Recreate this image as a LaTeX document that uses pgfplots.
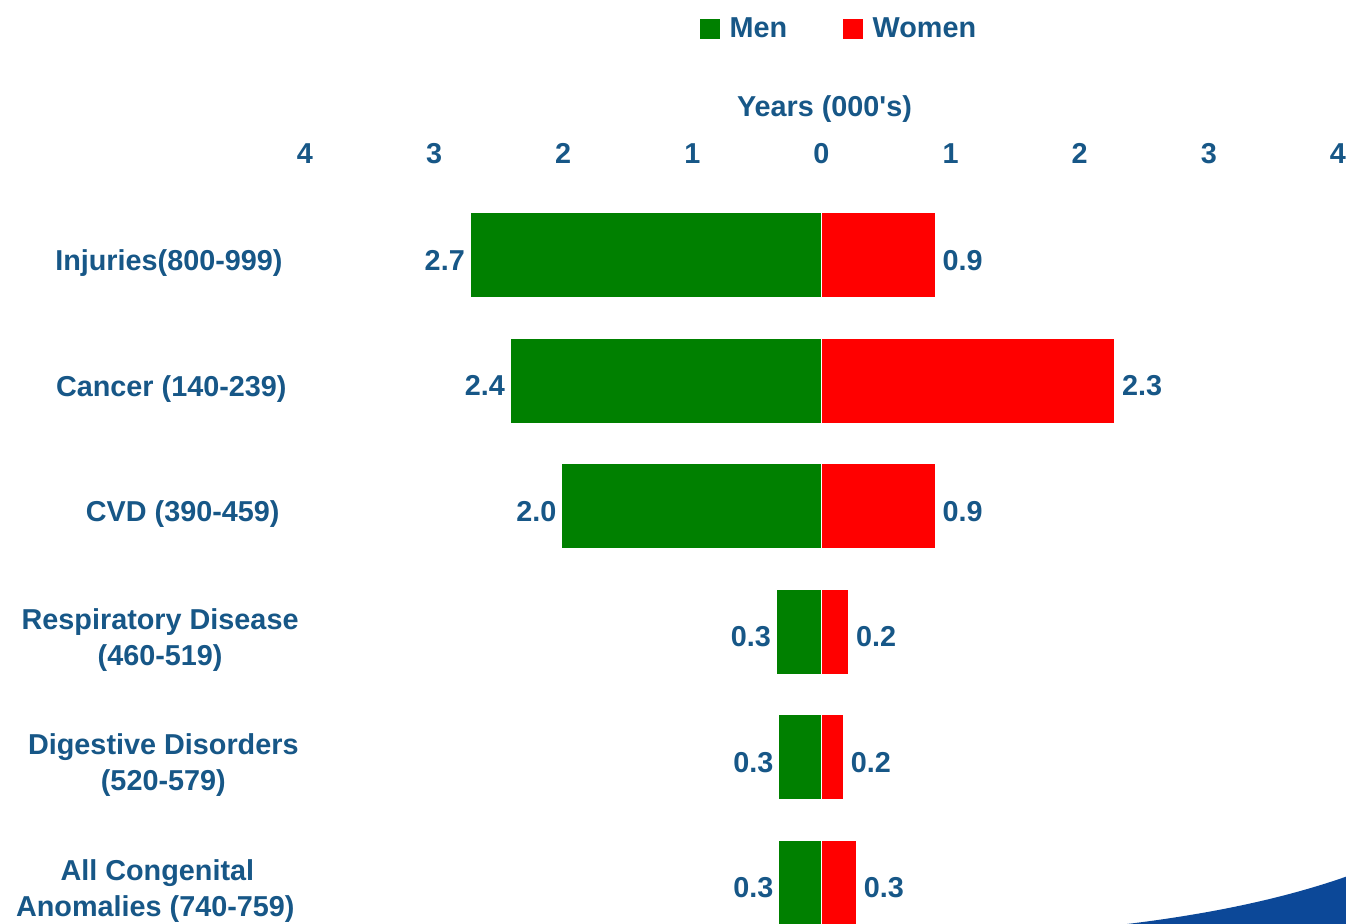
\documentclass[border=0pt]{standalone}
\usepackage{fontspec}
\setmainfont{Liberation Sans}
\usepackage{pgfplots}
\pgfplotsset{compat=1.18}
\definecolor{txtblue}{RGB}{23,87,135}
\definecolor{barmen}{RGB}{0,128,0}
\definecolor{barwomen}{RGB}{255,0,0}
\definecolor{swoosh}{RGB}{12,72,152}
\newcommand\chartfont{\fontsize{14.4}{18}\selectfont\bfseries}
\newcommand\pad[1]{\rule{#1}{0pt}}
\begin{document}
\begin{tikzpicture}
\useasboundingbox (0,0) rectangle (673pt,-462pt);
\clip (0,0) rectangle (673pt,-462pt);
% slide decoration, bottom right
\fill[swoosh] (555pt,-463pt) .. controls (600pt,-458pt) and (640pt,-450pt) .. (674pt,-438pt) -- (674pt,-463pt) -- cycle;
\begin{axis}[
    at={(152.5pt,-90pt)}, anchor=north west,
    scale only axis, width=516.5pt, height=374pt,
    xmin=-4, xmax=4, ymin=-0.6, ymax=5.36,
    y dir=reverse,
    xbar, bar width=42.5pt, bar shift=0pt,
    axis line style={draw=none}, major tick length=0pt,
    xtick={-4,...,4}, xticklabels={4,3,2,1,0,1,2,3,4},
    xticklabel pos=upper,
    xticklabel style={font=\chartfont, text=txtblue, anchor=base, inner sep=0pt, yshift=8.5pt},
    ytick={0,...,5},
    yticklabels={{Injuries(800-999)\pad{8pt}},{Cancer (140-239)\pad{6pt}},{CVD (390-459)\pad{9.5pt}},
                 {Respiratory Disease\\(460-519)},{Digestive Disorders\\(520-579)},
                 {All Congenital\\Anomalies (740-759)\pad{2pt}}},
    yticklabel style={font=\chartfont, text=txtblue, align=center, anchor=east, inner sep=0pt, xshift=-3pt, yshift=-4pt},
    xlabel={Years (000\textquotesingle s)},
    xlabel style={font=\chartfont, text=txtblue, at={(axis description cs:0.5,1)}, anchor=base, inner sep=0pt, yshift=32pt, xshift=1.5pt},
    point meta=explicit symbolic,
    nodes near coords,
    nodes near coords style={font=\chartfont, text=txtblue, inner sep=0pt, yshift=-2.5pt},
    legend columns=2,
    legend style={at={(axis description cs:0.5185,1.2018)}, anchor=center, draw=none, fill=none,
        font=\chartfont, text=txtblue, inner sep=0pt,
        nodes={inner sep=2.5pt},
        /tikz/every even column/.append style={column sep=25.5pt}},
    legend image code/.code={\fill[#1, draw=none] (0pt,-5pt) rectangle (10pt,5pt); \path (12pt,0pt);},
    clip=false,
]
\addplot[fill=barmen, draw=white, line width=0.5pt,
    every node near coord/.append style={anchor=east, xshift=-2.5pt}]
    coordinates {(-2.72,0) [2.7] (-2.41,1) [2.4] (-2.01,2) [2.0]
                 (-0.35,3) [0.3] (-0.33,4) [0.3] (-0.33,5) [0.3]};
\addlegendentry{Men}
\addplot[fill=barwomen, draw=white, line width=0.5pt,
    every node near coord/.append style={anchor=west, xshift=3.5pt}]
    coordinates {(0.88,0) [0.9] (2.27,1) [2.3] (0.88,2) [0.9]
                 (0.21,3) [0.2] (0.17,4) [0.2] (0.27,5) [0.3]};
\addlegendentry{Women}
\end{axis}
\end{tikzpicture}
\end{document}
